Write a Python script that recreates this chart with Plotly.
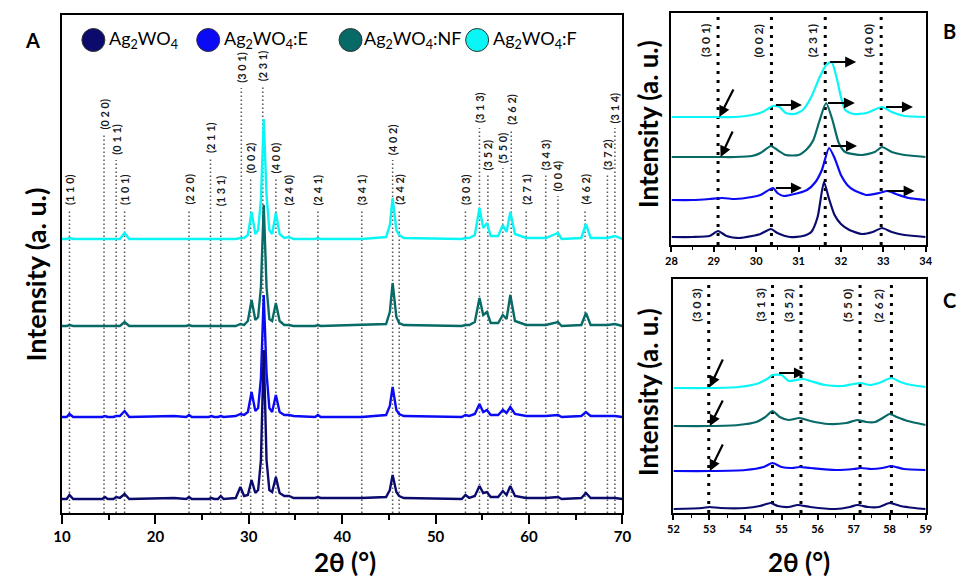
import plotly.graph_objects as go

# ---------------- data ----------------
series_names = ["Ag<sub>2</sub>WO<sub>4</sub>", "Ag<sub>2</sub>WO<sub>4</sub>:E",
                "Ag<sub>2</sub>WO<sub>4</sub>:NF", "Ag<sub>2</sub>WO<sub>4</sub>:F"]

# Panel A : full pattern (2theta, intensity above each curve's own baseline)
theta_A = [10.0, 10.5, 10.8, 11.2, 14.3, 14.6, 14.9, 15.5, 15.8, 16.2,
           16.7, 17.2, 22.0, 23.3, 23.6, 23.9, 25.7, 26.0, 26.3, 26.7,
           27.0, 27.3, 28.6, 29.1, 29.5, 29.9, 30.3, 30.7, 31.0, 31.3,
           31.6, 31.9, 32.2, 32.5, 32.9, 33.3, 33.8, 34.3, 34.8, 37.1,
           37.4, 37.7, 42.1, 44.7, 45.1, 45.4, 45.8, 46.1, 46.6, 52.8,
           53.2, 53.6, 54.2, 54.7, 55.1, 55.5, 55.9, 56.7, 57.2, 57.6,
           58.0, 58.5, 59.7, 61.8, 63.1, 63.5, 65.6, 66.1, 66.6, 68.4,
           69.2, 70.0]
I_A_pure = [1, 1, 5, 1, 1, 3, 1, 1, 3, 2,
            6, 1, 2, 1, 3, 1, 1, 2, 1, 1,
            4, 1, 2, 13, 4, 5, 20, 7, 10, 40,
            150, 40, 10, 8, 23, 7, 4, 4, 2, 2,
            3, 2, 2, 3, 10, 25, 8, 4, 2, 1,
            5, 2, 4, 14, 7, 8, 3, 3, 9, 5,
            14, 4, 2, 2, 3, 1, 2, 7, 2, 2,
            2, 1]
I_A_E = [1, 1, 4, 1, 1, 2, 1, 1, 2, 2,
         7, 1, 2, 1, 3, 1, 1, 2, 1, 1,
         2, 1, 2, 4, 3, 6, 26, 7, 10, 40,
         123, 45, 10, 6, 23, 6, 3, 3, 2, 1,
         3, 1, 1, 3, 12, 31, 8, 4, 2, 1,
         3, 2, 4, 14, 6, 8, 3, 3, 8, 5,
         11, 4, 2, 2, 3, 1, 2, 6, 2, 2,
         2, 1]
I_A_NF = [1, 1, 2, 1, 1, 1, 1, 1, 1, 1,
          5, 1, 1, 1, 2, 1, 1, 1, 1, 1,
          1, 1, 1, 3, 2, 6, 27, 7, 10, 40,
          122, 40, 8, 6, 24, 6, 2, 2, 1, 1,
          2, 1, 2, 3, 15, 44, 10, 4, 2, 1,
          2, 2, 5, 29, 12, 15, 4, 4, 12, 8,
          32, 6, 2, 2, 5, 1, 2, 14, 2, 2,
          3, 1]
I_A_F = [1, 1, 2, 1, 1, 1, 1, 1, 1, 1,
         7, 1, 1, 1, 1, 1, 1, 1, 1, 1,
         1, 1, 1, 2, 2, 5, 28, 6, 10, 40,
         121, 45, 10, 6, 27, 6, 2, 3, 1, 1,
         2, 1, 1, 3, 15, 42, 10, 5, 2, 1,
         2, 2, 5, 32, 12, 17, 4, 4, 15, 8,
         28, 6, 2, 2, 7, 1, 2, 16, 2, 2,
         4, 1]

hkl_A = ["(1 1 0)", "(0 2 0)", "(0 1 1)", "(1 0 1)", "(2 2 0)", "(2 1 1)", "(1 3 1)",
         "(3 0 1)", "(0 0 2)", "(2 3 1)", "(4 0 0)", "(2 4 0)", "(2 4 1)", "(3 4 1)",
         "(4 0 2)", "(2 4 2)", "(3 0 3)", "(3 1 3)", "(3 5 2)", "(5 5 0)", "(2 6 2)",
         "(2 7 1)", "(3 4 3)", "(0 0 4)", "(4 6 2)", "(3 7 2)", "(3 1 4)"]
hkl_pos_A = [10.8, 14.5, 15.8, 16.7, 23.6, 25.9, 27.0,
             29.2, 30.2, 31.5, 32.9, 34.3, 37.4, 42.1,
             45.4, 46.1, 53.2, 54.7, 55.6, 57.2, 58.1,
             59.7, 61.8, 63.1, 66.0, 68.4, 69.2]
hkl_labelbase_A = [306, 381, 356, 306, 306, 358, 305,
                   428, 338, 430, 338, 306, 306, 306,
                   356, 306, 306, 388, 341, 348, 386,
                   306, 341, 320, 306, 341, 388]

# Panel B : 28-34 deg zoom
theta_B_pure = [28.0, 28.5, 28.9, 29.1, 29.3, 29.6, 29.9, 30.1, 30.35, 30.5,
                30.8, 31.1, 31.3, 31.45, 31.6, 31.72, 31.85, 32.0, 32.2, 32.5,
                32.75, 32.97, 33.2, 33.5, 34.0]
I_B_pure = [0, 0, 1, 6, 1, -1, 1, 3, 8, 4,
            0, 1, 5, 20, 55, 38, 22, 13, 7, 3,
            5, 9, 5, 2, 0]
theta_B_E = [28.0, 28.5, 28.9, 29.2, 29.5, 29.9, 30.1, 30.4, 30.5, 30.65,
             30.8, 31.0, 31.2, 31.4, 31.55, 31.72, 31.85, 32.0, 32.15, 32.3,
             32.6, 32.9, 33.1, 33.3, 33.6, 34.0]
I_B_E = [0, 0, 1, 2, 1, 3, 5, 12, 7, 4,
         5, 7, 10, 18, 30, 52, 42, 25, 15, 10,
         5, 7, 9, 6, 2, 0]
theta_B_NF = [28.0, 28.5, 29.1, 29.5, 29.9, 30.1, 30.35, 30.5, 30.7, 31.0,
              31.2, 31.35, 31.5, 31.65, 31.8, 31.95, 32.1, 32.5, 32.8, 32.97,
              33.2, 33.5, 34.0]
I_B_NF = [0, 0, 0, 0, 1, 4, 11, 7, 2, 2,
          8, 17, 37, 54, 37, 14, 5, 2, 5, 10,
          5, 2, 0]
theta_B_F = [28.0, 28.5, 29.1, 29.5, 29.9, 30.15, 30.4, 30.55, 30.7, 30.9,
             31.1, 31.3, 31.5, 31.65, 31.78, 31.9, 32.0, 32.1, 32.3, 32.6,
             32.97, 33.2, 33.5, 34.0]
I_B_F = [0, 0, 0, 0, 2, 5, 11, 10, 4, 3,
         7, 20, 40, 52, 55, 39, 20, 7, 3, 4,
         10, 5, 1, 0]
hkl_B = ["(3 0 1)", "(0 0 2)", "(2 3 1)", "(4 0 0)"]
hkl_pos_B = [29.1, 30.36, 31.63, 32.95]

# Panel C : 52-59 deg zoom
theta_C_pure = [52.0, 52.8, 53.0, 53.3, 54.0, 54.4, 54.7, 54.9, 55.2, 55.45,
                55.8, 56.5, 56.9, 57.1, 57.4, 57.7, 58.0, 58.3, 58.7, 59.0]
I_C_pure = [0, 1, 2, 1, 1, 3, 6, 3, 2, 4,
            2, 0, 2, 4, 2, 2, 6, 3, 1, 0]
theta_C_E = [52.0, 53.0, 54.0, 54.5, 54.75, 55.0, 55.3, 55.5, 55.8, 56.5,
             57.0, 57.2, 57.5, 57.8, 58.05, 58.4, 59.0]
I_C_E = [0, 0, 1, 4, 8, 4, 3, 4, 3, 1,
         2, 3, 2, 3, 5, 2, 1]
theta_C_NF = [52.0, 53.0, 53.8, 54.3, 54.55, 54.75, 54.95, 55.2, 55.5, 55.8,
              56.3, 56.8, 57.1, 57.35, 57.6, 57.85, 58.0, 58.2, 58.5, 59.0]
I_C_NF = [0, 0, 1, 4, 9, 15, 9, 6, 8, 5,
          2, 3, 6, 4, 4, 9, 12, 9, 5, 1]
theta_C_F = [52.0, 53.0, 53.8, 54.3, 54.6, 54.75, 55.0, 55.2, 55.4, 55.6,
             55.8, 56.2, 56.7, 57.0, 57.2, 57.45, 57.7, 58.05, 58.3, 58.6, 59.0]
I_C_F = [0, 0, 1, 4, 9, 13, 13, 7, 8, 9,
         7, 3, 2, 4, 5, 3, 5, 10, 6, 3, 1]
hkl_C = ["(3 0 3)", "(3 1 3)", "(3 5 2)", "(5 5 0)", "(2 6 2)"]
hkl_pos_C = [52.98, 54.75, 55.54, 57.18, 58.05]

# ---------------- styling / layout constants ----------------
W, H = 969, 585
COLORS = ["#0b0b6e", "#0a0af5", "#086a66", "#0af5f5"]
OFF_A = [13, 95, 186, 273]
OFF_B = [8, 45, 88, 128]
OFF_C = [4, 42, 87, 125]
FONT = "Lato"

def px_dom_x(a, b):
    return [a / W, b / W]

def px_dom_y(top, bottom):
    return [(H - bottom) / H, (H - top) / H]

fig = go.Figure()

def add_series(xs, ys, off, color, xa, ya, width, shape):
    fig.add_trace(go.Scatter(
        x=xs, y=[v + off for v in ys], mode="lines",
        line=dict(color=color, width=width, shape=shape, smoothing=0.6),
        xaxis=xa, yaxis=ya, showlegend=False, hoverinfo="skip"))

# draw order: F, NF, E, pure
A_sets = [I_A_pure, I_A_E, I_A_NF, I_A_F]
for i in [3, 2, 1, 0]:
    add_series(theta_A, A_sets[i], OFF_A[i], COLORS[i], "x", "y", 2.4, "linear")

B_sets = [(theta_B_pure, I_B_pure), (theta_B_E, I_B_E), (theta_B_NF, I_B_NF), (theta_B_F, I_B_F)]
for i in [3, 2, 1, 0]:
    add_series(B_sets[i][0], B_sets[i][1], OFF_B[i], COLORS[i], "x2", "y2", 2.2, "spline")

C_sets = [(theta_C_pure, I_C_pure), (theta_C_E, I_C_E), (theta_C_NF, I_C_NF), (theta_C_F, I_C_F)]
for i in [3, 2, 1, 0]:
    add_series(C_sets[i][0], C_sets[i][1], OFF_C[i], COLORS[i], "x3", "y3", 2.2, "spline")

shapes = []
annotations = []

# reference lines + hkl labels, panel A
for lab, p, yb in zip(hkl_A, hkl_pos_A, hkl_labelbase_A):
    shapes.append(dict(type="line", xref="x", yref="y", x0=p, x1=p, y0=0, y1=yb - 3,
                       line=dict(color="#555555", width=1.5, dash="1.5px,2.5px"), layer="below"))
    annotations.append(dict(x=p, y=yb, xref="x", yref="y", text="<b>" + lab + "</b>",
                            textangle=-90, showarrow=False, xanchor="center", yanchor="bottom",
                            font=dict(family=FONT, size=11, color="#1a1a1a")))

# panel B
for lab, p in zip(hkl_B, hkl_pos_B):
    shapes.append(dict(type="line", xref="x2", yref="y2", x0=p, x1=p, y0=0, y1=230,
                       line=dict(color="black", width=3, dash="3px,6px"), layer="below"))
    annotations.append(dict(x=p, y=186, xref="x2", yref="y2", text="<b>" + lab + "</b>",
                            textangle=-90, showarrow=False, xanchor="right", yanchor="bottom",
                            xshift=-3, font=dict(family=FONT, size=12, color="#1a1a1a")))
# panel C
for lab, p in zip(hkl_C, hkl_pos_C):
    shapes.append(dict(type="line", xref="x3", yref="y3", x0=p, x1=p, y0=0, y1=232,
                       line=dict(color="black", width=3, dash="3px,6px"), layer="below"))
    annotations.append(dict(x=p, y=189, xref="x3", yref="y3", text="<b>" + lab + "</b>",
                            textangle=-90, showarrow=False, xanchor="right", yanchor="bottom",
                            xshift=-3, font=dict(family=FONT, size=12, color="#1a1a1a")))

# shift arrows (tail -> head), data coordinates
arrows_B = [(31.71, 183, 32.36, 183), (30.43, 140, 31.08, 140), (33.03, 138, 33.70, 138),
            (31.66, 142, 32.33, 142), (31.73, 99, 32.38, 99), (30.43, 57, 31.08, 57),
            (33.05, 54, 33.74, 54), (29.48, 157, 29.13, 128), (29.46, 115, 29.16, 88)]
arrows_C = [(54.89, 140, 55.65, 140), (53.39, 155, 53.01, 126), (53.39, 114, 53.01, 87),
            (53.39, 70, 53.01, 42)]
for (ax_, ay_, x_, y_) in arrows_B:
    annotations.append(dict(x=x_, y=y_, ax=ax_, ay=ay_, xref="x2", yref="y2", axref="x2", ayref="y2",
                            text="", showarrow=True, arrowhead=2, arrowsize=1.0, arrowwidth=2.2,
                            arrowcolor="black"))
for (ax_, ay_, x_, y_) in arrows_C:
    annotations.append(dict(x=x_, y=y_, ax=ax_, ay=ay_, xref="x3", yref="y3", axref="x3", ayref="y3",
                            text="", showarrow=True, arrowhead=2, arrowsize=1.0, arrowwidth=2.2,
                            arrowcolor="black"))

# legend (manual)
leg_circle_x = [86, 203, 348, 477]
leg_text_x = [100, 217, 360, 491]
leg_y = 40
for cx, tx, col, name in zip(leg_circle_x, leg_text_x, COLORS, series_names):
    shapes.append(dict(type="circle", xref="paper", yref="paper", xsizemode="pixel", ysizemode="pixel",
                       xanchor=cx / W, yanchor=1 - leg_y / H, x0=-11.5, x1=11.5, y0=-11.5, y1=11.5,
                       fillcolor=col, line=dict(color="#333333", width=1)))
    annotations.append(dict(x=tx / W, y=1 - leg_y / H, xref="paper", yref="paper", text=name,
                            showarrow=False, xanchor="left", yanchor="middle",
                            font=dict(family=FONT, size=18, color="black")))

# panel letters and axis titles
def paper_text(txt, x, y, size, angle=0):
    annotations.append(dict(x=x / W, y=1 - y / H, xref="paper", yref="paper", text=txt,
                            showarrow=False, xanchor="center", yanchor="middle", textangle=angle,
                            font=dict(family=FONT, size=size, color="black")))

paper_text("<b>A</b>", 24, 40, 20)
paper_text("<b>B</b>", 958, 31, 20)
paper_text("<b>C</b>", 958, 300, 20)
paper_text("<b>2θ (°)</b>", 342, 562, 26)
paper_text("<b>2θ (°)</b>", 805, 562, 26)
paper_text("<b>Intensity (a. u.)</b>", 26, 275, 27, -90)
paper_text("<b>Intensity (a. u.)</b>", 651, 124, 26, -90)
paper_text("<b>Intensity (a. u.)</b>", 651, 392, 26, -90)

axis_common = dict(showgrid=False, zeroline=False, showline=True, linecolor="black",
                   linewidth=2, mirror=True)

fig.update_layout(
    width=W, height=H, margin=dict(l=0, r=0, t=0, b=0),
    paper_bgcolor="white", plot_bgcolor="white", showlegend=False,
    xaxis=dict(domain=px_dom_x(54, 625), range=[10, 70], anchor="y", dtick=10, tick0=10,
               ticks="outside", ticklen=9, tickwidth=2, tickcolor="black",
               minor=dict(dtick=5, ticks="outside", ticklen=5, tickwidth=1.5, tickcolor="black"),
               tickfont=dict(family=FONT, size=15, color="black", weight="bold"), **axis_common),
    yaxis=dict(domain=px_dom_y(15, 513), range=[0, 498], anchor="x", showticklabels=False,
               ticks="", **axis_common),
    xaxis2=dict(domain=px_dom_x(675, 934), range=[28, 34], anchor="y2", dtick=1,
                ticks="outside", ticklen=5, tickwidth=1.5, tickcolor="black",
                minor=dict(dtick=0.5, ticks="outside", ticklen=3, tickwidth=1.2, tickcolor="black"),
                tickfont=dict(family=FONT, size=11, color="black", weight="bold"), **axis_common),
    yaxis2=dict(domain=px_dom_y(13, 245), range=[0, 232], anchor="x2", showticklabels=False,
                ticks="", **axis_common),
    xaxis3=dict(domain=px_dom_x(677, 934), range=[52, 59], anchor="y3", dtick=1,
                ticks="outside", ticklen=5, tickwidth=1.5, tickcolor="black",
                minor=dict(dtick=0.5, ticks="outside", ticklen=3, tickwidth=1.2, tickcolor="black"),
                tickfont=dict(family=FONT, size=11, color="black", weight="bold"), **axis_common),
    yaxis3=dict(domain=px_dom_y(279, 513), range=[0, 234], anchor="x3", showticklabels=False,
                ticks="", **axis_common),
    shapes=shapes, annotations=annotations,
)

fig.write_html("out.html", config={"displayModeBar": False},
               post_script="document.body.style.margin='0px';document.body.style.overflow='hidden';")
